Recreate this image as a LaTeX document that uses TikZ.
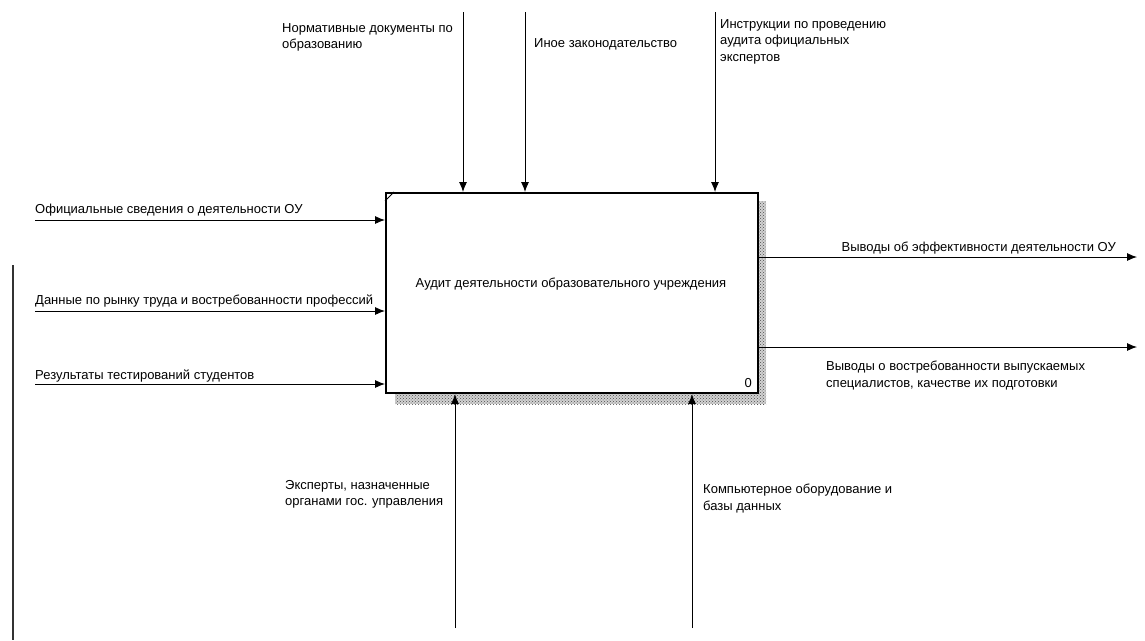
\documentclass[tikz,border=0pt]{standalone}
\usepackage{fontspec}
\setmainfont{Liberation Sans}
\usetikzlibrary{patterns,arrows.meta}
\tikzset{
    lbl/.style={font=\fontsize{13}{16.5}\selectfont, inner sep=0pt, align=left},
    flow/.style={black, line width=0.9pt, -{Latex[length=10pt,width=8pt]}},
    shade/.style={fill=gray!35, postaction={pattern=crosshatch dots, pattern color=black!70}},
}
\begin{document}
\begin{tikzpicture}[x=1pt, y=-1pt]
    \useasboundingbox (0,0) rectangle (1145,640);
    \path[shade] (757,201) rectangle (766,404);
    \path[shade] (395,392) rectangle (766,404);
    \node[draw, fill=white, line width=2pt, minimum width=372pt, minimum height=200pt, anchor=north west, inner sep=0pt] (audit) at (385,192) {};
    \node[lbl, anchor=base] (title) at (571,287) {Аудит деятельности образовательного учреждения};
    \node[lbl, anchor=base east] (num) at (752,387) {0};
    \draw[black, line width=1pt] (audit.north west) ++(0,9) to ++(9,-9);
    \coordinate (c1) at (463,12);
    \coordinate (c2) at (525,12);
    \coordinate (c3) at (715,12);
    \coordinate (i1) at (35,220);
    \coordinate (i2) at (35,311);
    \coordinate (i3) at (35,384);
    \coordinate (o1) at (1137,257);
    \coordinate (o2) at (1137,347);
    \coordinate (m1) at (455,628);
    \coordinate (m2) at (692,628);
    \draw[flow] (c1) to (c1 |- audit.north);
    \draw[flow] (c2) to (c2 |- audit.north);
    \draw[flow] (c3) to (c3 |- audit.north);
    \draw[flow] (i1) to (i1 -| audit.west);
    \draw[flow] (i2) to (i2 -| audit.west);
    \draw[flow] (i3) to (i3 -| audit.west);
    \draw[flow] (o1 -| audit.east) to (o1);
    \draw[flow] (o2 -| audit.east) to (o2);
    \draw[flow] (m1) to (m1 |- audit.south);
    \draw[flow] (m2) to (m2 |- audit.south);
    \node[lbl, anchor=north west] (lc1) at (282,23) {Нормативные документы по\\образованию};
    \node[lbl, anchor=base west] (lc2) at (534,47) {Иное законодательство};
    \node[lbl, anchor=north west] (lc3) at (720,19) {Инструкции по проведению\\аудита официальных\\экспертов};
    \node[lbl, anchor=base west] (li1) at (35,213) {Официальные сведения о деятельности ОУ};
    \node[lbl, anchor=base west] (li2) at (35,304) {Данные по рынку труда и востребованности профессий};
    \node[lbl, anchor=base west] (li3) at (35,379) {Результаты тестирований студентов};
    \node[lbl, anchor=base east] (lo1) at (1116,251) {Выводы об эффективности деятельности ОУ};
    \node[lbl, anchor=north west] (lo2) at (826,361) {Выводы о востребованности выпускаемых\\специалистов, качестве их подготовки};
    \node[lbl, anchor=north west] (lm1) at (285,480) {Эксперты, назначенные\\органами гос. управления};
    \node[lbl, anchor=north west] (lm2) at (703,484) {Компьютерное оборудование и\\базы данных};
    \draw[black!80, line width=1.5pt] (13,265) to (13,640);
\end{tikzpicture}
\end{document}
